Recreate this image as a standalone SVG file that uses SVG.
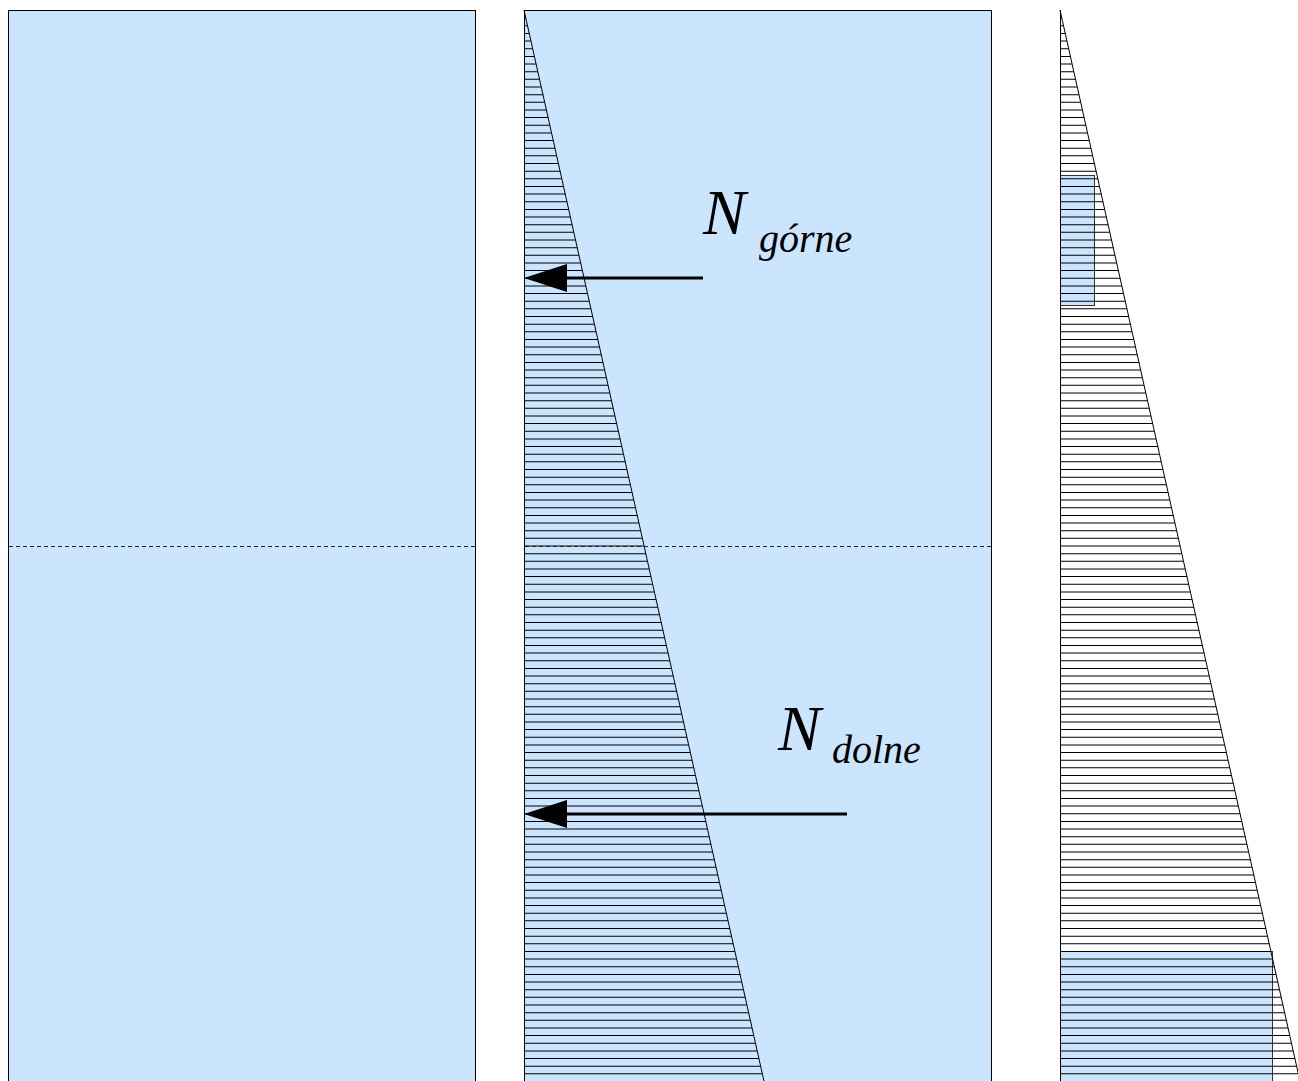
<svg xmlns="http://www.w3.org/2000/svg" width="1298" height="1081" viewBox="0 0 1298 1081">
<style>
.panel{fill:#cce5ff;stroke:#000;stroke-width:1}
.hyp{stroke:#000;stroke-width:1;fill:none}
.dash{stroke:#222;stroke-width:1;stroke-dasharray:4 3}
.arrow{stroke:#000;stroke-width:3;fill:none;marker-end:url(#head)}
.lbl{font-family:'Liberation Serif','Times New Roman',serif;font-style:italic;fill:#000}
.big{font-size:64px}
.sub{font-size:40px}
.box{fill:#cce5ff;stroke:#333;stroke-width:1}
</style>
<defs>
<marker id="head" markerUnits="userSpaceOnUse" markerWidth="44" markerHeight="30" viewBox="0 0 44 30" refX="27" refY="14" orient="auto">
<path d="M0,0 L43,14 L0,28 Z" fill="#000"/>
</marker>
<clipPath id="tri"><polygon points="524,10 768.2,1100 524,1100"/></clipPath>
<g id="hatch">
<line x1="646" y1="10" x2="646" y2="1100" stroke="#000" stroke-width="246" stroke-dasharray="1 6.65" clip-path="url(#tri)"/>
<line class="hyp" x1="524" y1="10" x2="768.2" y2="1100"/>
<line class="hyp" x1="524.5" y1="10" x2="524.5" y2="1100"/>
</g>
</defs>
<g id="panel-left">
<rect class="panel" x="8.5" y="10.5" width="467" height="1090"/>
<line class="dash" x1="9" y1="546.5" x2="475" y2="546.5"/>
</g>
<g id="panel-middle">
<rect class="panel" x="524.5" y="10.5" width="467" height="1090"/>
<use href="#hatch"/>
<line class="dash" x1="525" y1="546.5" x2="991" y2="546.5"/>
</g>
<g id="panel-right">
<rect class="box" x="1060.5" y="175.5" width="34" height="130"/>
<rect class="box" x="1060.5" y="951.5" width="212" height="140"/>
<use href="#hatch" transform="translate(536,0)"/>
</g>
<g id="label-gorne">
<text class="lbl big" x="703" y="234">N</text>
<text class="lbl sub" x="759" y="252">górne</text>
</g>
<g id="label-dolne">
<text class="lbl big" x="778" y="750">N</text>
<text class="lbl sub" x="832" y="763">dolne</text>
</g>
<g id="connectors">
<line class="arrow" x1="703" y1="278" x2="540" y2="278"/>
<line class="arrow" x1="847" y1="814" x2="540" y2="814"/>
</g>
</svg>
